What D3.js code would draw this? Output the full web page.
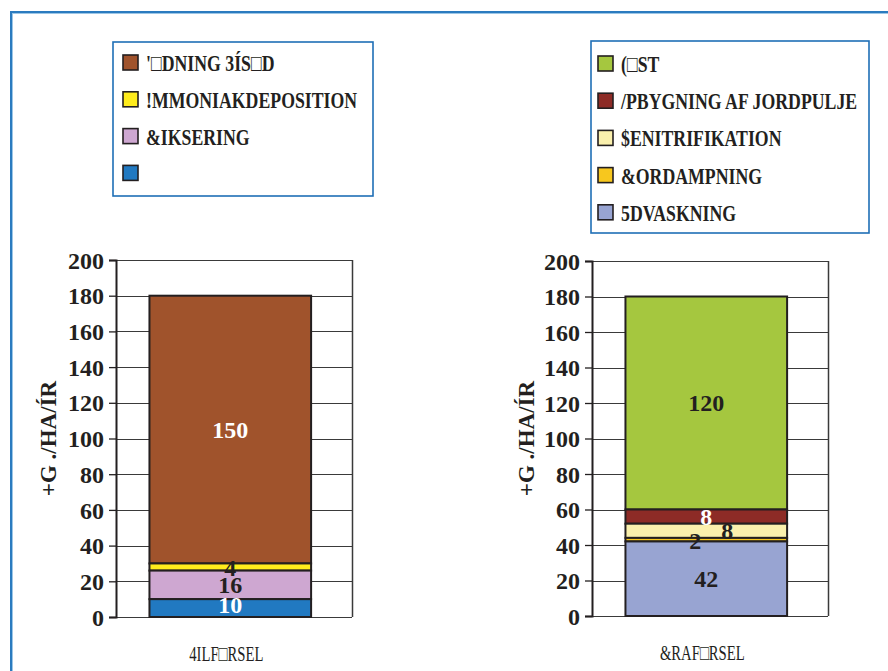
<!DOCTYPE html>
<html>
<head>
<meta charset="utf-8">
<script src="https://cdn.jsdelivr.net/npm/d3@7"></script>
<style>
  html, body { margin: 0; padding: 0; background: #fff; }
  svg { display: block; }
  text { font-family: "Liberation Serif", "Times New Roman", serif; fill: #231f20; }
</style>
</head>
<body>
<script>
// Nitrogen inputs (tilførsel) and outputs (fraførsel), kg N/ha/år
const inCategory = ["4ILF\u25A1RSEL"];
const inSeries = ["'\u25A1DNING 3ÍS\u25A1D", "!MMONIAKDEPOSITION", "&IKSERING", ""];
const inValues = [150, 4, 16, 10];

const outCategory = ["&RAF\u25A1RSEL"];
const outSeries = ["(\u25A1ST", "/PBYGNING AF JORDPULJE", "$ENITRIFIKATION", "&ORDAMPNING", "5DVASKNING"];
const outValues = [120, 8, 8, 2, 42];

const yTicks = [0, 20, 40, 60, 80, 100, 120, 140, 160, 180, 200];
const yTitle = "+G ./HA/ÍR";

// fill colours, same order as the series
const inColors = ["#a0532c", "#ffec1c", "#cea7d1", "#2179c1"];
const outColors = ["#a5c73f", "#8d2b26", "#faf0ad", "#f7c71e", "#98a4d2"];
const labelColors = { in: ["#fff", "#231f20", "#231f20", "#fff"], out: ["#231f20", "#fff", "#231f20", "#231f20", "#231f20"] };
const labelShift = { in: [[0, 0], [0, 1], [0, 0], [0, -3]], out: [[0, 0], [0, 0], [21, 0], [-11, 1], [0, 0]] };

const W = 888, H = 671;
const svg = d3.select("body").append("svg").attr("width", W).attr("height", H);

// outer frame
svg.append("rect").attr("x", 11).attr("y", 12).attr("width", 1000).attr("height", 1000)
  .attr("fill", "none").attr("stroke", "#2b7bbf").attr("stroke-width", 2);
svg.append("rect").attr("x", 12.5).attr("y", 13.5).attr("width", 1000).attr("height", 1000)
  .attr("fill", "none").attr("stroke", "#9cc6e6").attr("stroke-width", 1);

function panel(opt) {
  const { category, series, values, colors, key, plot, legend, titleX } = opt;

  const y = d3.scaleLinear().domain([0, 200]).range([plot.bottom, plot.top]);
  const x = d3.scaleBand().domain(category).range([plot.left, plot.right])
    .paddingInner(0).paddingOuter(0.23).align(0.45);

  const g = svg.append("g");

  // horizontal grid
  g.append("g").selectAll("line").data(yTicks).join("line")
    .attr("x1", plot.left).attr("x2", plot.right)
    .attr("y1", d => Math.round(y(d)) + 0.5).attr("y2", d => Math.round(y(d)) + 0.5)
    .attr("stroke", "#3a3a3a").attr("stroke-width", 1.2);
  // right border
  g.append("line").attr("x1", plot.right + 0.5).attr("x2", plot.right + 0.5)
    .attr("y1", y(200)).attr("y2", y(0)).attr("stroke", "#3a3a3a").attr("stroke-width", 1.5);

  // y axis
  const axis = g.append("g").attr("transform", `translate(${plot.left},0)`)
    .call(d3.axisLeft(y).tickValues(yTicks).tickSize(7).tickPadding(5));
  axis.select(".domain").attr("stroke", "#231f20").attr("stroke-width", 2);
  axis.selectAll(".tick line").attr("stroke", "#231f20").attr("stroke-width", 1.3);
  axis.selectAll(".tick text").attr("font-size", 24).attr("font-weight", "bold")
    .attr("font-family", "Liberation Serif, serif").attr("fill", "#231f20").attr("dy", "0.34em");

  // stacked bar: first series sits on top, last series at the bottom
  const row = { cat: category[0] };
  series.forEach((s, i) => row["k" + i] = values[i]);
  const keys = series.map((s, i) => "k" + i);
  const stacked = d3.stack().keys(keys).order(d3.stackOrderReverse)([row]);
  const ki = d => +d.key.slice(1);

  g.append("g").selectAll("rect").data(stacked).join("rect")
    .attr("x", x(category[0])).attr("width", x.bandwidth())
    .attr("y", d => y(d[0][1])).attr("height", d => y(d[0][0]) - y(d[0][1]))
    .attr("fill", d => colors[ki(d)])
    .attr("stroke", "#231f20").attr("stroke-width", 2);

  // value labels
  g.append("g").selectAll("text").data(stacked).join("text")
    .attr("x", d => x(category[0]) + x.bandwidth() / 2 + labelShift[key][ki(d)][0])
    .attr("y", d => y((d[0][0] + d[0][1]) / 2) + labelShift[key][ki(d)][1])
    .attr("dy", "0.35em").attr("text-anchor", "middle")
    .attr("font-size", 24).attr("font-weight", "bold")
    .style("fill", d => labelColors[key][ki(d)])
    .text(d => d[0][1] - d[0][0]);

  // y title
  g.append("text")
    .attr("transform", `translate(${titleX},${(plot.top + plot.bottom) / 2}) rotate(-90)`)
    .attr("text-anchor", "middle").attr("font-size", 23).attr("font-weight", "bold")
    .text(yTitle);

  // category label (condensed)
  g.append("g")
    .attr("transform", `translate(${x(category[0]) + x.bandwidth() / 2 - 4},${plot.bottom + 44}) scale(0.7,1)`)
    .append("text").attr("text-anchor", "middle").attr("font-size", 21)
    .text(category[0]);

  // legend
  const lg = svg.append("g");
  lg.append("rect").attr("x", legend.x).attr("y", legend.y)
    .attr("width", legend.w).attr("height", legend.h)
    .attr("fill", "#fff").attr("stroke", "#1f6fb6").attr("stroke-width", 1.6);
  const items = lg.selectAll("g.item").data(series).join("g").attr("class", "item")
    .attr("transform", (d, i) => `translate(${legend.x + legend.sx},${legend.y + legend.r0 + i * legend.step})`);
  items.append("rect").attr("x", 0).attr("y", -8).attr("width", 15).attr("height", 15)
    .attr("fill", (d, i) => colors[i]).attr("stroke", "#231f20").attr("stroke-width", 1.6);
  items.append("g").attr("transform", "translate(23,8) scale(0.74,1)")
    .append("text").attr("font-size", 24).attr("font-weight", "bold")
    .text(d => d);
}

panel({
  category: inCategory, series: inSeries, values: inValues, colors: inColors, key: "in",
  plot: { left: 116, right: 352, top: 260, bottom: 617 },
  legend: { x: 113, y: 42, w: 260, h: 154, sx: 10, r0: 21, step: 36.8 },
  titleX: 56
});

panel({
  category: outCategory, series: outSeries, values: outValues, colors: outColors, key: "out",
  plot: { left: 592, right: 828, top: 261, bottom: 616 },
  legend: { x: 591, y: 41, w: 278, h: 192, sx: 7, r0: 23, step: 37.2 },
  titleX: 534
});
</script>
</body>
</html>
